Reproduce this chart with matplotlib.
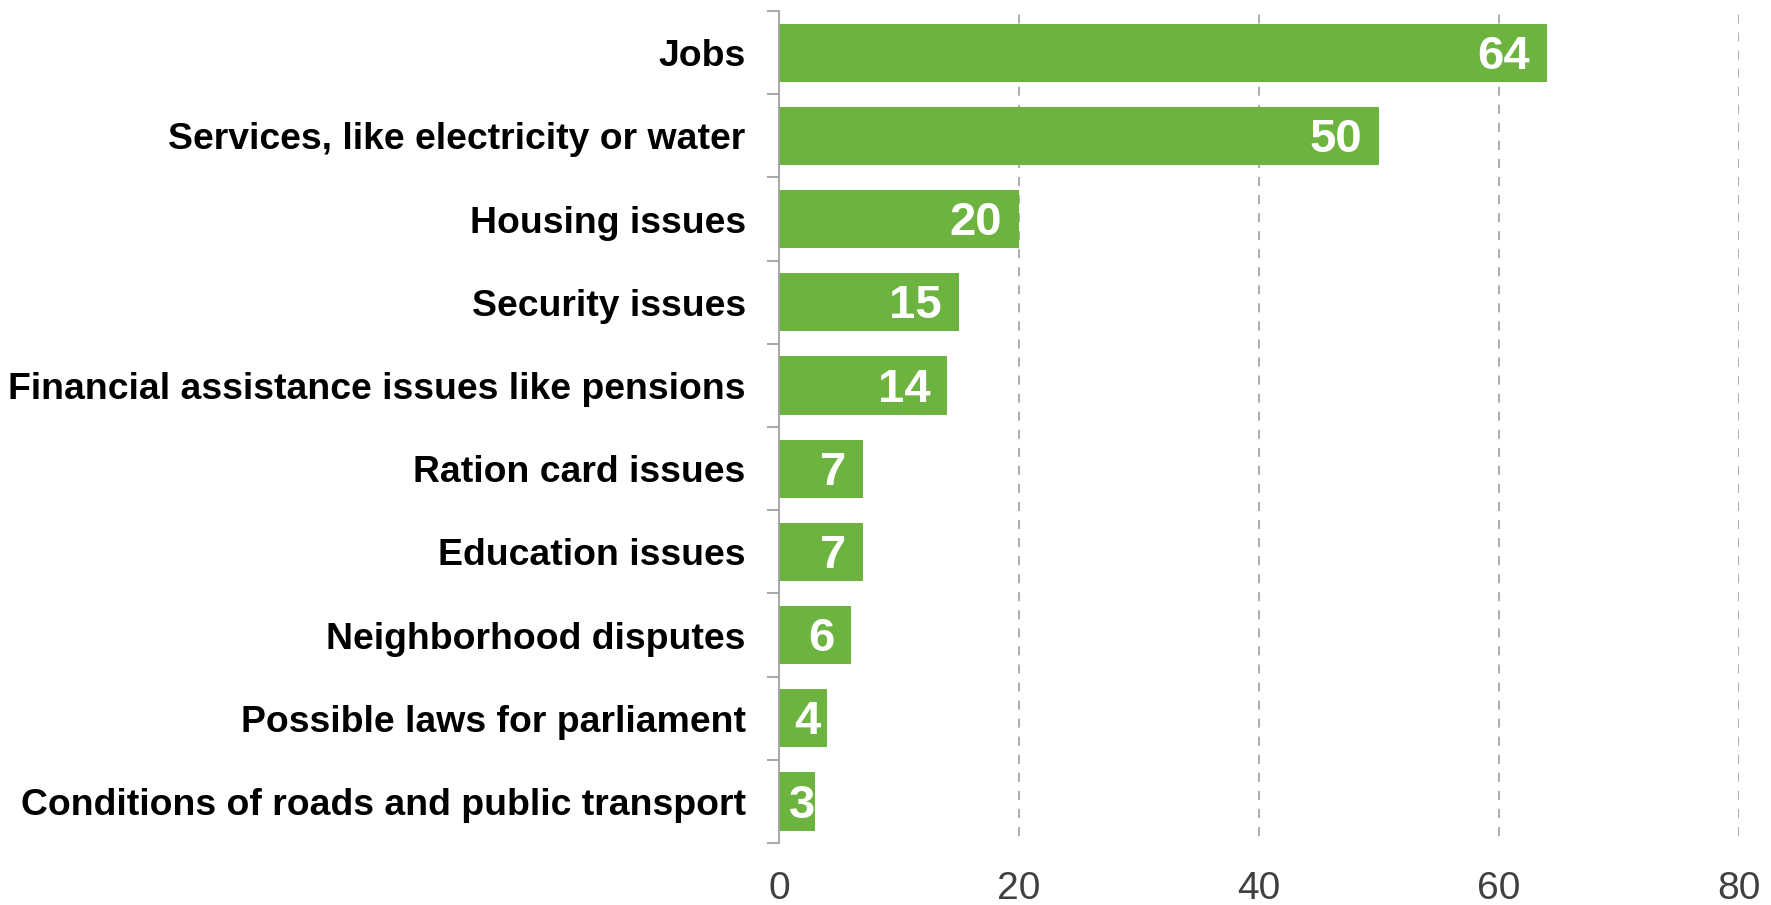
import matplotlib.pyplot as plt
import numpy as np

# Data
categories = [
    "Jobs",
    "Services, like electricity or water",
    "Housing issues",
    "Security issues",
    "Financial assistance issues like pensions",
    "Ration card issues",
    "Education issues",
    "Neighborhood disputes",
    "Possible laws for parliament",
    "Conditions of roads and public transport",
]
values = [64, 50, 20, 15, 14, 7, 7, 6, 4, 3]
xticks = [0, 20, 40, 60, 80]

bar_color = "#6db33f"
plt.rcParams["font.family"] = ["Liberation Sans", "DejaVu Sans"]

fig = plt.figure(figsize=(17.71, 9.05), dpi=100)
ax = fig.add_axes([0.4399, 0.0685, 0.542, 0.9193])

y = np.arange(len(categories))
ax.barh(y, values, height=0.7, color=bar_color, zorder=2)

# value labels inside bar ends
for yi, v in zip(y, values):
    if v >= 5:
        ax.text(v - 1.4, yi + 0.05, str(v), ha="right", va="center", color="white",
                fontsize=34, fontweight="bold", zorder=3)
    else:
        ax.text(v / 2 + 0.4, yi + 0.05, str(v), ha="center", va="center", color="white",
                fontsize=34, fontweight="bold", zorder=3)

ax.set_xlim(0, 80)
ax.set_ylim(len(categories) - 0.5, -0.5)
ax.set_xticks(xticks)
ax.tick_params(axis="x", length=0, pad=20, labelsize=28, labelcolor="#404040")

ax.set_yticks(y)
ax.set_yticklabels(categories, fontsize=26.9, fontweight="bold")
ax.set_yticks(np.arange(len(categories) + 1) - 0.5, minor=True)
ax.tick_params(axis="y", which="major", length=0, pad=24)
ax.tick_params(axis="y", which="minor", length=8.5, width=1.3, color="#a0a0a0")

for x in xticks[1:]:
    ax.axvline(x, ymin=0.008, color="#a6a6a6", linestyle=(0, (5, 5)),
               linewidth=1.3, zorder=1)

for s in ["top", "right", "bottom"]:
    ax.spines[s].set_visible(False)
ax.spines["left"].set_color("#a0a0a0")
ax.spines["left"].set_linewidth(1.3)
ax.spines["left"].set_zorder(4)

fig.savefig("out.png", dpi=100)
